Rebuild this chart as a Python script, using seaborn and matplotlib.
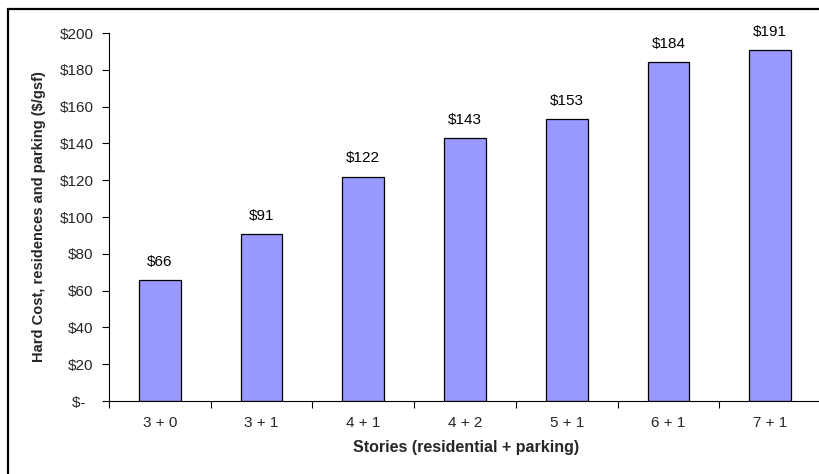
import matplotlib
matplotlib.use("Agg")
import matplotlib.pyplot as plt
import seaborn as sns
import pandas as pd
from matplotlib.patches import Rectangle

categories = ["3 + 0", "3 + 1", "4 + 1", "4 + 2", "5 + 1", "6 + 1", "7 + 1"]
costs = [66, 91, 122, 143, 153, 184, 191]
yticks = [0, 20, 40, 60, 80, 100, 120, 140, 160, 180, 200]
ytick_labels = ["$-  ", "$20", "$40", "$60", "$80", "$100", "$120", "$140", "$160", "$180", "$200"]

sns.set_theme(style="white")
plt.rcParams['font.family'] = ['Liberation Sans', 'DejaVu Sans']

df = pd.DataFrame({"stories": categories, "cost": costs})

fig = plt.figure(figsize=(8.2, 4.74), dpi=100)
ax = fig.add_axes([109/820, 1-401/474, (823-109)/820, (401-33)/474])

sns.barplot(data=df, x="stories", y="cost", color="#9999FF", edgecolor="black",
            linewidth=0.9, width=0.41, saturation=1, ax=ax)

for i, v in enumerate(costs):
    ax.text(i, v + 6, f"${v}", ha="center", va="bottom", fontsize=11, color="black")

ax.set_ylim(0, 200)
ax.set_xlim(-0.5, len(categories) - 0.5 + 0.02)
ax.set_yticks(yticks)
ax.set_yticklabels(ytick_labels, fontsize=11)
ax.set_xticks(range(len(categories)))
ax.set_xticklabels(categories, fontsize=11)
ax.tick_params(axis="x", length=0, pad=10.5)
ax.tick_params(axis="y", length=5, width=0.8, color="black", direction="out", left=True, pad=6)
# x ticks between categories
ax.set_xticks([i - 0.5 for i in range(len(categories) + 1)], minor=True)
ax.tick_params(axis="x", which="minor", length=5, width=0.8, color="black", direction="out", bottom=True)

for side in ["top", "right"]:
    ax.spines[side].set_visible(False)
for side in ["left", "bottom"]:
    ax.spines[side].set_color("black")
    ax.spines[side].set_linewidth(0.8)

ax.set_xlabel("Stories (residential + parking)", fontsize=11.5, fontweight="bold", labelpad=7.5)
ax.set_ylabel("Hard Cost, residences and parking ($/gsf)", fontsize=10.5, fontweight="bold", labelpad=10)

# outer chart frame
fig.patches.append(Rectangle((8/820, -0.2), 1.2, 1.2 - 9/474, transform=fig.transFigure,
                             fill=False, edgecolor="black", linewidth=1.6))

fig.savefig("out.png", dpi=100, facecolor="white")
